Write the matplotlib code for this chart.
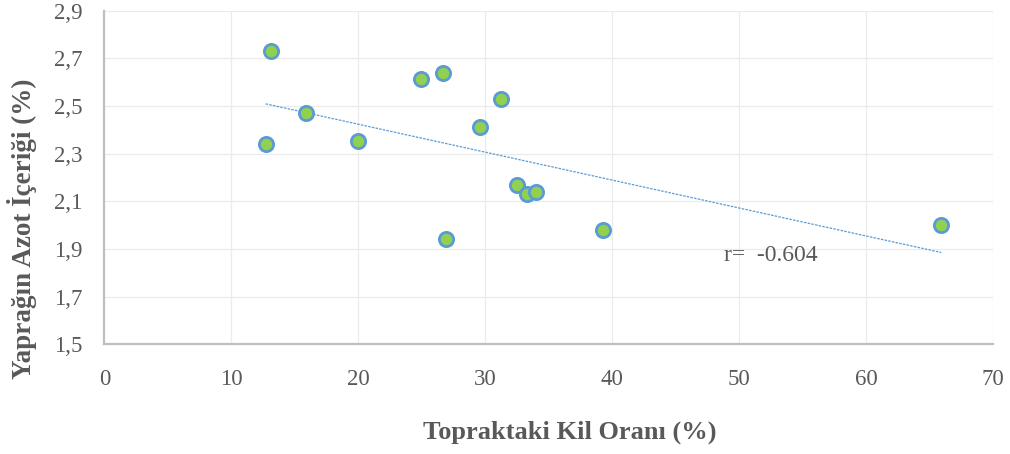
import numpy as np
import matplotlib
matplotlib.use("Agg")
import matplotlib.pyplot as plt
from matplotlib.ticker import FuncFormatter

# Clay content of soil (%) and leaf nitrogen content (%)
clay = [13.15, 15.9, 12.7, 20.0, 24.9, 26.7, 26.9, 29.6, 31.2, 32.5, 33.3, 34.0, 39.3, 65.9]
leaf_n = [2.731, 2.471, 2.340, 2.355, 2.614, 2.637, 1.943, 2.413, 2.529, 2.168, 2.133, 2.140, 1.982, 2.001]

x_ticks = [0, 10, 20, 30, 40, 50, 60, 70]
y_ticks = [1.5, 1.7, 1.9, 2.1, 2.3, 2.5, 2.7, 2.9]
x_label = "Topraktaki Kil Oranı (%)"
y_label = "Yaprağın Azot İçeriği (%)"
r_text = "r=  -0.604"

plt.rcParams["font.family"] = ["Liberation Serif", "DejaVu Serif"]

fig = plt.figure(figsize=(10.10, 4.54), dpi=100)
ax = fig.add_axes([0.1033, 0.2412, 0.8802, 0.7352])

grid_c = "#EBEBEB"
text_c = "#595959"

ax.set_xlim(0, 70)
ax.set_ylim(1.5, 2.9)
ax.set_xticks(x_ticks)
ax.set_yticks(y_ticks)
ax.yaxis.set_major_formatter(FuncFormatter(lambda v, p: f"{v:.1f}".replace(".", ",")))
ax.grid(True, color=grid_c, linewidth=0.9, zorder=0)
ax.set_axisbelow(True)
ax.tick_params(length=0, labelsize=16.5, labelcolor=text_c)
ax.tick_params(axis="x", pad=18)
ax.tick_params(axis="y", pad=15.5)

for side in ("top", "right"):
    ax.spines[side].set_visible(False)
for side in ("left", "bottom"):
    ax.spines[side].set_color("#BFBFBF")
    ax.spines[side].set_linewidth(1.6)

# Linear trend line across the data range
xs = np.array(clay)
ys = np.array(leaf_n)
slope, intercept = np.polyfit(xs, ys, 1)
line_x = np.array([xs.min(), xs.max()])
ax.plot(line_x, slope * line_x + intercept, color="#5B9BD5",
        linewidth=0.9, linestyle=(0, (2, 1)), zorder=2)

ax.scatter(clay, leaf_n, s=105, facecolor="#92D050", edgecolor="#5B9BD5",
           linewidth=2.0, zorder=3)

ax.text(48.8, 1.874, r_text, fontsize=17, color=text_c, va="center", ha="left")

fig.text(0.564, 0.048, x_label, fontsize=19, fontweight="bold", color=text_c,
         ha="center", va="center")
fig.text(0.022, 0.497, y_label, fontsize=19.5, fontweight="bold", color=text_c,
         ha="center", va="center", rotation=90)

fig.savefig("out.png", dpi=100)
